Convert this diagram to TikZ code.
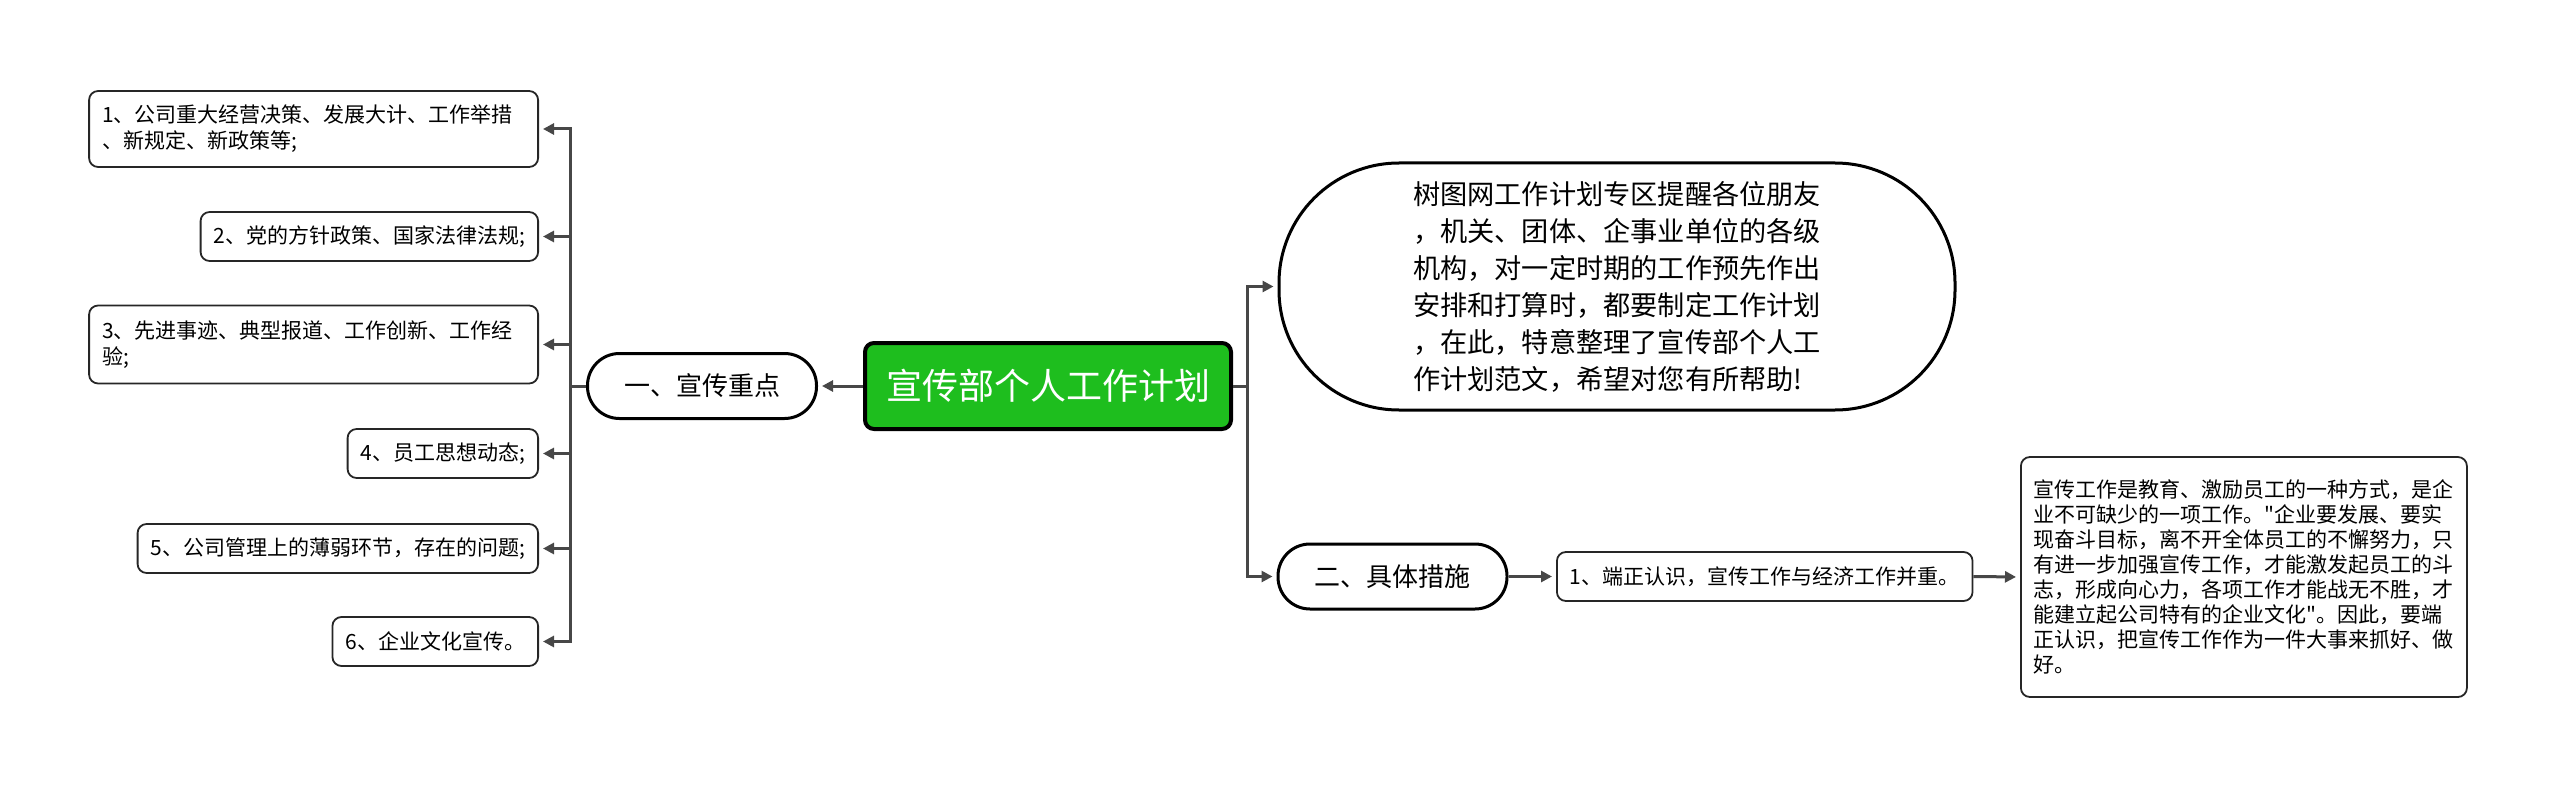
\documentclass[tikz,border=0pt]{standalone}
\usepackage{fontspec}
\setmainfont{Noto Sans CJK SC}[Ligatures=TeXOff]
\usetikzlibrary{arrows.meta,calc}
\definecolor{lc}{HTML}{474747}
\definecolor{rootg}{HTML}{1EBE1E}
\tikzset{
  conn/.style={draw=lc, line width=3pt, -{Triangle[length=11pt,width=11pt]}, shorten >=4pt},
  plain/.style={draw=lc, line width=3pt},
  leaf/.style={draw=black!85, line width=1.8pt, rounded corners=9pt, align=left,
    inner xsep=13pt, inner ysep=0pt, font=\fontsize{21pt}{26pt}\selectfont,
    minimum height=49pt, fill=white},
  topic/.style={draw=black, line width=3pt, rounded corners=32pt, minimum width=229pt,
    minimum height=65pt, font=\fontsize{26pt}{30pt}\selectfont, fill=white},
  rootbox/.style={draw=black, line width=4pt, rounded corners=9pt, fill=rootg,
    text=white, minimum width=366pt, minimum height=86pt,
    font=\fontsize{36pt}{40pt}\selectfont},
  bubble/.style={draw=black, line width=3pt, rounded corners=120pt, fill=white,
    minimum width=676pt, minimum height=247pt, align=left,
    font=\fontsize{27.2pt}{37pt}\selectfont},
}
\begin{document}
\begin{tikzpicture}[x=1pt,y=-1pt]
\useasboundingbox (0,0) rectangle (2560,789);
% root and main topics
\node[rootbox] (root) at (1048,386) {宣传部个人工作计划};
\node[topic] (one) at (702,386) {一、宣传重点};
\node[topic] (two) at (1392.5,576.5) {二、具体措施};
\node[bubble] (bub) at (1617,286.5) {树图网工作计划专区提醒各位朋友\\，机关、团体、企事业单位的各级\\机构，对一定时期的工作预先作出\\安排和打算时，都要制定工作计划\\，在此，特意整理了宣传部个人工\\作计划范文，希望对您有所帮助!};
% left leaves
\node[leaf, anchor=east, minimum height=76pt, text width=423pt] (b1) at (539,129) {1、公司重大经营决策、发展大计、工作举措\\、新规定、新政策等;};
\node[leaf, anchor=east] (b2) at (539,236.5) {2、党的方针政策、国家法律法规;};
\node[leaf, anchor=east, minimum height=78pt, text width=423pt] (b3) at (539,344.5) {3、先进事迹、典型报道、工作创新、工作经\\验;};
\node[leaf, anchor=east] (b4) at (539,453.5) {4、员工思想动态;};
\node[leaf, anchor=east] (b5) at (539,548.5) {5、公司管理上的薄弱环节，存在的问题;};
\node[leaf, anchor=east] (b6) at (539,641.5) {6、企业文化宣传。};
% right leaves
\node[leaf, anchor=west] (dz) at (1556,576.5) {1、端正认识，宣传工作与经济工作并重。};
\node[leaf, anchor=west, minimum height=240pt, inner ysep=10pt, font=\fontsize{21pt}{25pt}\selectfont] (fin) at (2020,577) {宣传工作是教育、激励员工的一种方式，是企\\业不可缺少的一项工作。"企业要发展、要实\\现奋斗目标，离不开全体员工的不懈努力，只\\有进一步加强宣传工作，才能激发起员工的斗\\志，形成向心力，各项工作才能战无不胜，才\\能建立起公司特有的企业文化"。因此，要端\\正认识，把宣传工作作为一件大事来抓好、做\\好。};
% junctions
\coordinate (lj) at (570,386);
\coordinate (rj) at (1247,386);
% connectors
\draw[conn] (root.west) -- (one.east);
\draw[plain] (one.west) -- (lj);
\foreach \b in {b1,b2,b3,b4,b5,b6}{
  \draw[conn] (lj) |- (\b.east);
}
\draw[plain] (root.east) -- (rj);
\draw[conn] (rj) |- (bub.west);
\draw[conn] (rj) |- (two.west);
\draw[conn] (two.east) -- (dz.west);
\draw[conn] (dz.east) -- (fin.west);
\end{tikzpicture}
\end{document}
